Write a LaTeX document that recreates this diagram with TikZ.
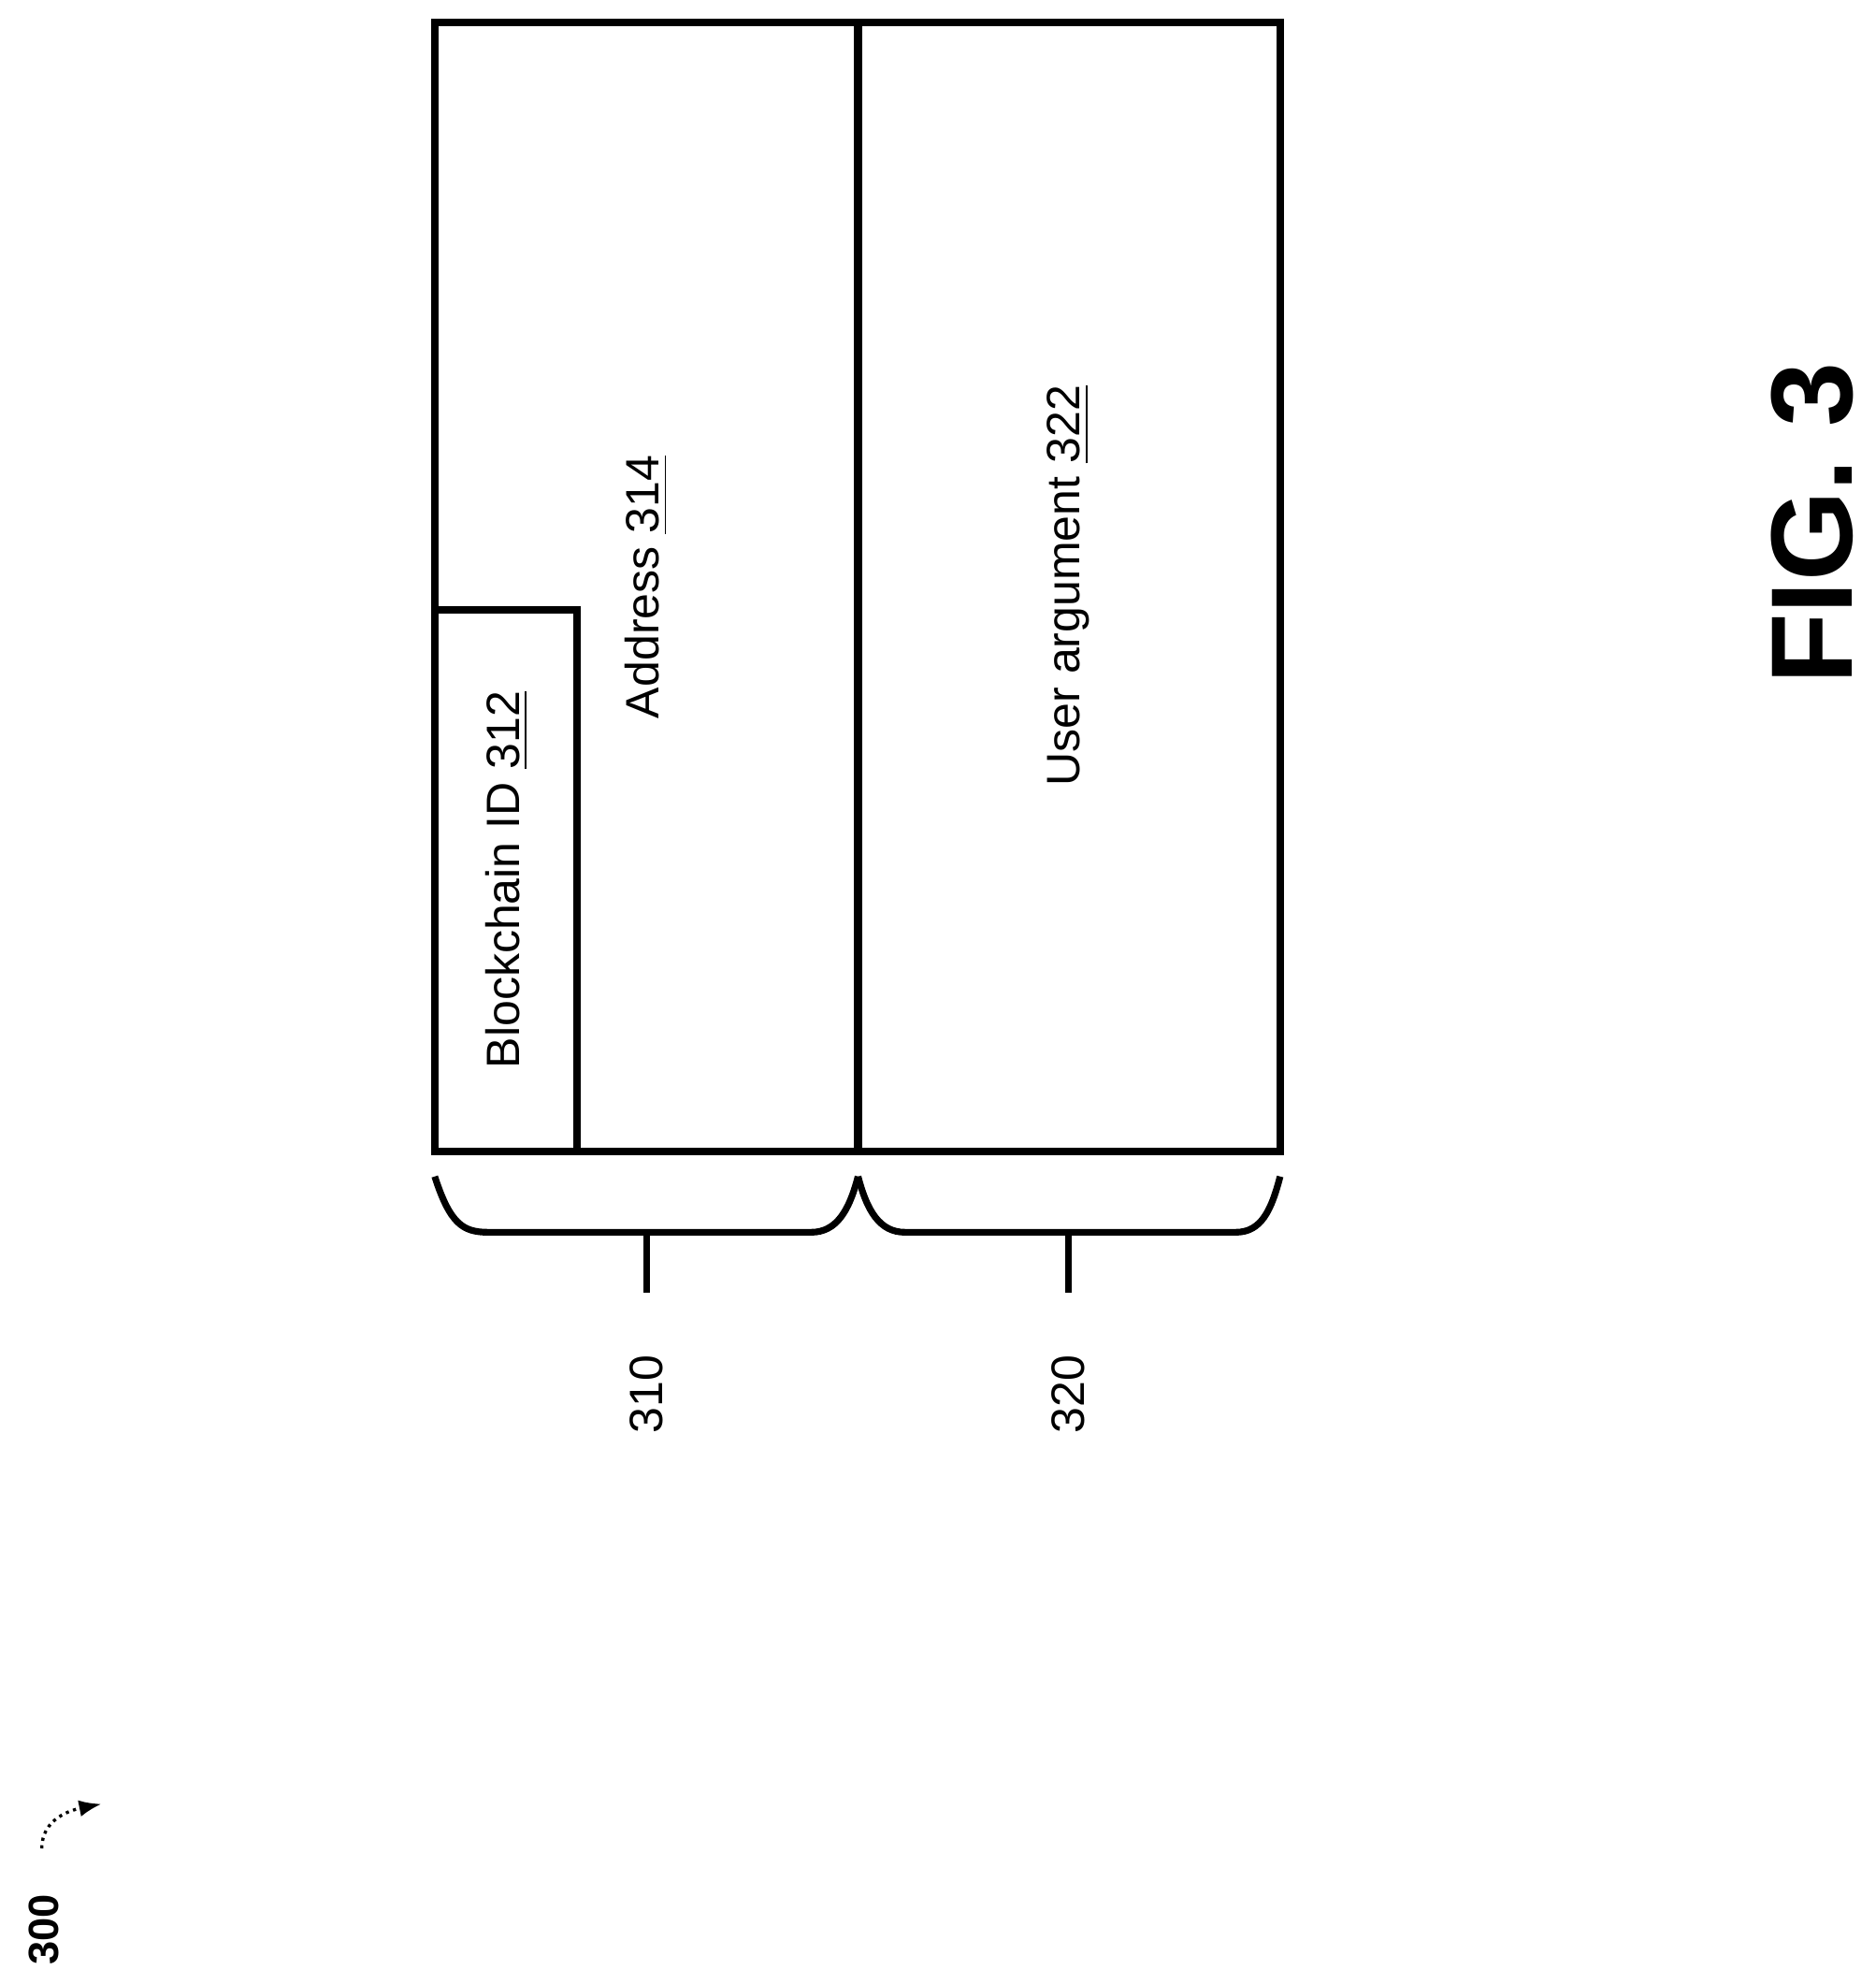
\documentclass[tikz,border=0pt]{standalone}
\usepackage{fontspec}
\setmainfont{Liberation Sans}
\usetikzlibrary{arrows.meta}
\begin{document}
\begin{tikzpicture}[x=0.01cm,y=-0.01cm,
  box/.style={line width=1.7pt},
  lbl/.style={rotate=90,font=\fontsize{10.5pt}{12pt}\selectfont},
  brace/.style={line width=1.5pt}]
\useasboundingbox (0,0) rectangle (1480,1565);
\draw[box] (343,18) rectangle (1010,908);
\draw[box] (677,18) -- (677,908);
\draw[box] (343,481) -- (455,481) -- (455,908);
\node[lbl] (b) at (400,694) {Blockchain ID \underline{312}};
\node[lbl] (a) at (510,463) {Address \underline{314}};
\node[lbl] (u) at (843,462) {User argument \underline{322}};
\draw[brace] (343,928) .. controls (355,965) and (365,972) .. (385,972) -- (640,972) .. controls (660,972) and (670,955) .. (677,928);
\draw[brace] (677,928) .. controls (684,955) and (694,972) .. (714,972) -- (975,972) .. controls (995,972) and (1003,955) .. (1010,928);
\coordinate (t1) at (510,975); \coordinate (t2) at (843,975);
\node[lbl] (l1) at (510,1100) {310};
\node[lbl] (l2) at (843,1100) {320};
\draw[brace] (t1) -- (510,1020);
\draw[brace] (t2) -- (843,1020);
\node[rotate=90,font=\fontsize{26pt}{30pt}\selectfont\bfseries] (fig) at (1430,413) {FIG. 3};
\node[rotate=90,font=\fontsize{9.5pt}{10pt}\selectfont\bfseries] (n300) at (35,1522) {300};
\coordinate (s) at (33,1458);
\coordinate (e) at (80,1423);
\draw[densely dotted,line width=0.7pt,-{Latex[length=5pt]}] (s) .. controls (33,1435) and (55,1428) .. (e);
\end{tikzpicture}
\end{document}
